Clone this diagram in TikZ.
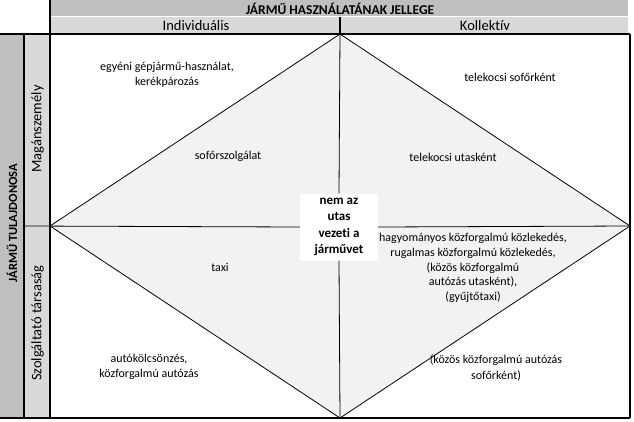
\documentclass[tikz,border=0pt]{standalone}
\usepackage{fontspec}
\setmainfont{Carlito}[Ligatures=NoCommon]
\definecolor{hdark}{HTML}{BFBFBF}
\definecolor{hlight}{HTML}{D9D9D9}
\definecolor{dfill}{HTML}{F2F2F2}
\begin{document}
\begin{tikzpicture}[x=1pt,y=-1pt,
  grid/.style={line width=1.3pt,black},
  dline/.style={line width=0.8pt,black},
  lbl/.style={align=center,font=\fontsize{12}{15.5}\selectfont,inner sep=1pt},
  hdr/.style={font=\fontsize{14.5}{16}\selectfont},
]
\useasboundingbox (0,0) rectangle (634,421);
% header fills
\fill[hdark] (50,0) rectangle (628,16);
\fill[hlight] (50,17) rectangle (628,34);
\fill[hdark] (0,34) rectangle (24,418);
\fill[hlight] (24,34) rectangle (50,418);
% diamond
\coordinate (T) at (340,34);
\coordinate (L) at (50,226);
\coordinate (B) at (340,418);
\coordinate (R) at (630,226);
\fill[dfill] (T) -- (L) -- (B) -- (R) -- cycle;
\draw[dline] (T) -- (L) -- (B) -- (R) -- cycle;
% center node
\node[lbl,fill=white,font=\bfseries\fontsize{13}{16.5}\selectfont,minimum width=78pt,minimum height=67pt,inner sep=0pt] (C) at (339,227) {nem az\\utas\\vezeti a\\járművet};
\draw[dline] (T) -- (C.north);
\draw[dline] (C.south) -- (B);
\coordinate (L0) at (24,226);
\draw[dline] (L0) -- (C.west);
\draw[dline] (C.east) -- (R);
% grid
\draw[grid] (0,34) -- (630,34);
\draw[grid] (0,418) -- (630,418);
\draw[grid] (24,34) -- (24,418);
\draw[grid] (50,0) -- (50,418);
\draw[grid] (630,34) -- (630,418);
\draw[grid] (340,17) -- (340,34);
% header texts
\node[hdr,font=\bfseries\fontsize{13.5}{15}\selectfont] (h1) at (340,8.5) {JÁRMŰ HASZNÁLATÁNAK JELLEGE};
\node[hdr] (h2) at (196,25.5) {Individuális};
\node[hdr] (h3) at (485,25.5) {Kollektív};
\node[hdr,font=\bfseries\fontsize{12.5}{14}\selectfont,rotate=90] (v1) at (12,223) {JÁRMŰ TULAJDONOSA};
\node[hdr,rotate=90] (v2) at (37.5,129) {Magánszemély};
\node[hdr,rotate=90] (v3) at (37.5,323) {Szolgáltató társaság};
% cell texts
\node[lbl] (a1) at (167,75) {egyéni gépjármű-használat,\\kerékpározás};
\node[lbl] (a2) at (228,156) {sofőrszolgálat};
\node[lbl] (a3) at (510,77) {telekocsi sofőrként};
\node[lbl] (a4) at (453,157) {telekocsi utasként};
\node[lbl] (a5) at (220,267) {taxi};
\node[lbl,font=\fontsize{12}{14.7}\selectfont] (a6) at (473,268) {hagyományos közforgalmú közlekedés,\\rugalmas közforgalmú közlekedés,\\(közös közforgalmú\\autózás utasként),\\(gyűjtőtaxi)};
\node[lbl] (a7) at (149,367) {autókölcsönzés,\\közforgalmú autózás};
\node[lbl] (a8) at (496,368) {(közös közforgalmú autózás\\sofőrként)};
\end{tikzpicture}
\end{document}
